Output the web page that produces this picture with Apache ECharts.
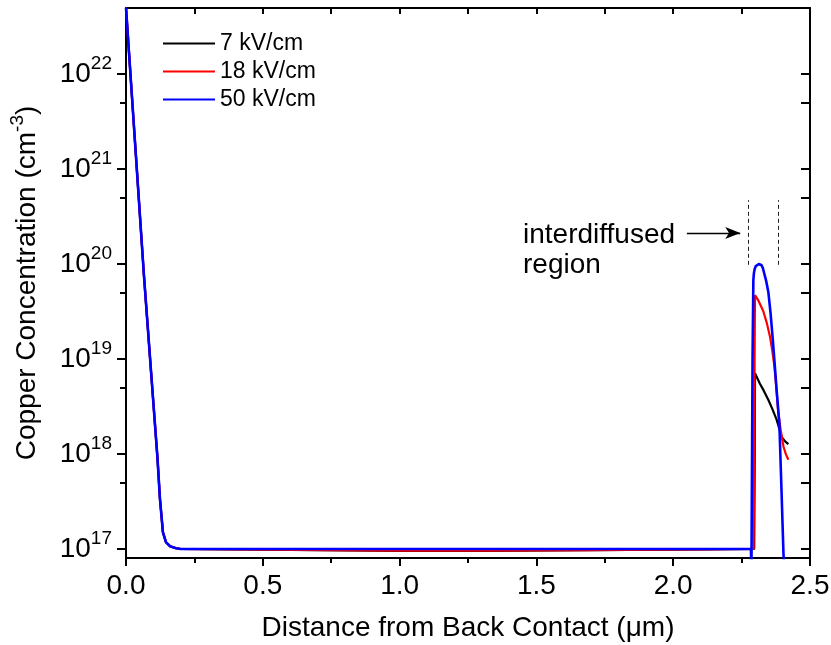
<!doctype html>
<html>
<head>
<meta charset="utf-8">
<title>Copper concentration</title>
<script src="https://cdn.jsdelivr.net/npm/echarts@6/dist/echarts.min.js"></script>
<style>
  html, body { margin: 0; padding: 0; background: #fff; }
  #chart { width: 831px; height: 645px; }
</style>
</head>
<body>
<div id="chart"></div>
<script>
// series names (legend)
var names = ['7 kV/cm', '18 kV/cm', '50 kV/cm'];

// back-contact drop, shared by all three fields  [x (um), Cu (cm^-3)]
var backDrop = [[0, 5.0e22], [0.033, 1.9e21], [0.066, 7.3e19], [0.094, 5.9e18], [0.115, 9.1e17],
  [0.124, 3.4e17], [0.135, 1.5e17], [0.146, 1.18e17], [0.161, 1.07e17], [0.183, 1.02e17], [0.2, 1.0e17]];

// bulk + interdiffused region
var field7 = [[0.5, 0.985e17], [1.0, 0.955e17], [1.3, 0.955e17], [1.7, 0.972e17], [2.1, 0.99e17],
  [2.284, 1e17], [2.296, 1e17], [2.298, 1e18], [2.299, 7.1e18], [2.317, 5.5e18], [2.33, 4.7e18],
  [2.348, 3.7e18], [2.363, 2.95e18], [2.378, 2.3e18], [2.397, 1.5e18], [2.41, 1.35e18], [2.421, 1.27e18]];
var field18 = [[0.5, 0.985e17], [1.0, 0.96e17], [1.3, 0.96e17], [1.7, 0.975e17], [2.1, 0.99e17],
  [2.284, 1e17], [2.294, 1e17], [2.296, 1e18], [2.298, 2e19], [2.299, 4.7e19], [2.31, 4.2e19],
  [2.329, 3.2e19], [2.342, 2.4e19], [2.354, 1.7e19], [2.362, 1.23e19], [2.370, 8.3e18],
  [2.377, 5.0e18], [2.384, 2.7e18], [2.393, 1.78e18], [2.403, 1.2e18], [2.412, 9.9e17], [2.421, 8.7e17]];
var field50 = [[0.5, 1e17], [1.0, 1e17], [1.5, 1e17], [2.0, 1e17], [2.284, 1e17], [2.286, 6e16],
  [2.290, 1e19], [2.293, 6.8e19], [2.295, 8.0e19], [2.298, 8.9e19], [2.302, 9.5e19], [2.307, 9.85e19],
  [2.313, 1.0e20], [2.318, 1.0e20], [2.323, 9.7e19], [2.328, 9.0e19], [2.333, 7.9e19], [2.340, 6.6e19],
  [2.348, 5.0e19], [2.356, 3.0e19], [2.364, 1.6e19], [2.371, 8.8e18], [2.378, 4.7e18],
  [2.388, 2.1e18], [2.396, 4e17], [2.403, 9e16], [2.406, 6e16]];

// axis ticks
var yMajor = [1e17, 1e18, 1e19, 1e20, 1e21, 1e22];
var yMinor = [5e17, 5e18, 5e19, 5e20, 5e21, 5e22];
var yMin = 8.04e16, yMax = 4.95e22;

// annotation: dashed bounds of the interdiffused region and the arrow
var regionBounds = [2.274, 2.384];
var boundsY = [9.8e19, 4.7e20];
var arrowX = [2.05, 2.245], arrowY = 2.12e20;

var font = 'Liberation Sans, Arial, sans-serif';
var colors = ['#000000', '#ff0000', '#0000ff'];
var widths = [2.2, 2.2, 2.6];

function withDrop(arr) { return backDrop.concat(arr); }

function expLabel(v) {
  var e = Math.round(Math.log10(v));
  return '{b|10}{s|' + e + '}';
}

var supRich = {
  b: { fontSize: 28, lineHeight: 40, fontFamily: font, color: '#000' },
  s: { fontSize: 19, lineHeight: 20, verticalAlign: 'top', fontFamily: font, color: '#000' }
};

function yAxisOf(pos, vals, len, inside, main) {
  return {
    type: 'log', logBase: 10, position: pos, min: yMin, max: yMax,
    axisLine: { show: main, lineStyle: { color: '#000', width: 2 } },
    axisTick: { show: true, inside: inside, length: len, customValues: vals, lineStyle: { color: '#000', width: 2 } },
    axisLabel: pos === 'left' && main ? {
      show: true, customValues: vals, margin: 14, formatter: expLabel, rich: supRich
    } : { show: false },
    splitLine: { show: false },
    minorTick: { show: false }
  };
}

var series = [field7, field18, field50].map(function (d, i) {
  return {
    name: names[i], type: 'line', data: withDrop(d), symbol: 'none',
    lineStyle: { color: colors[i], width: widths[i] }, itemStyle: { color: colors[i] },
    animation: false, z: 2 + i
  };
});

series[2].markLine = {
  silent: true, animation: false, symbol: ['none', 'none'],
  label: { show: false },
  lineStyle: { color: '#222', width: 1, type: [4, 3] },
  data: [
    [{ coord: [regionBounds[0], boundsY[0]] }, { coord: [regionBounds[0], boundsY[1]] }],
    [{ coord: [regionBounds[1], boundsY[0]] }, { coord: [regionBounds[1], boundsY[1]] }],
    [{ coord: [arrowX[0], arrowY], lineStyle: { color: '#000', width: 1.3, type: 'solid' } },
     { coord: [arrowX[1], arrowY], symbol: 'arrow', symbolSize: [9, 15] }]
  ]
};

var option = {
  backgroundColor: '#fff',
  animation: false,
  textStyle: { fontFamily: font },
  grid: { left: 126, right: 21, top: 8, bottom: 87, outerBoundsMode: 'none' },
  legend: {
    data: names, orient: 'vertical', left: 158, top: 27,
    icon: 'rect', itemWidth: 52, itemHeight: 2.2, itemGap: 5,
    textStyle: { fontSize: 23, color: '#000', fontFamily: font, lineHeight: 23 }
  },
  xAxis: [{
    type: 'value', position: 'bottom', min: 0, max: 2.5, interval: 0.5,
    name: 'Distance from Back Contact (\u03bcm)', nameLocation: 'middle', nameGap: 56,
    nameTextStyle: { fontSize: 28, color: '#000', fontFamily: font },
    axisLine: { lineStyle: { color: '#000', width: 2 } },
    axisTick: { length: 8, lineStyle: { color: '#000', width: 2 } },
    minorTick: { show: true, splitNumber: 2, length: 5, lineStyle: { color: '#000', width: 2 } },
    axisLabel: { fontSize: 28, color: '#000', margin: 14, fontFamily: font,
      formatter: function (v) { return v.toFixed(1); } },
    splitLine: { show: false }
  }, {
    type: 'value', position: 'top', min: 0, max: 2.5, interval: 0.5,
    axisLine: { lineStyle: { color: '#000', width: 2 } },
    axisTick: { inside: true, length: 6, lineStyle: { color: '#000', width: 2 } },
    minorTick: { show: true, splitNumber: 2, length: 6, lineStyle: { color: '#000', width: 2 } },
    axisLabel: { show: false },
    splitLine: { show: false }
  }],
  yAxis: [
    Object.assign(yAxisOf('left', yMajor, 9, false, true), {
      name: '{b|Copper Concentration (cm}{s|-3}{b|)}', nameLocation: 'middle', nameGap: 80,
      nameTextStyle: { rich: {
        b: { fontSize: 28, lineHeight: 38, fontFamily: font, color: '#000' },
        s: { fontSize: 19, lineHeight: 20, verticalAlign: 'top', fontFamily: font, color: '#000' }
      } }
    }),
    yAxisOf('left', yMinor, 6, false, false),
    yAxisOf('right', yMajor, 9, true, true),
    yAxisOf('right', yMinor, 9, true, false)
  ],
  graphic: [{
    type: 'text', left: 523, top: 220,
    style: { text: 'interdiffused\nregion', font: '28px ' + font, fill: '#000', lineHeight: 30 }
  }],
  series: series
};

var chart = echarts.init(document.getElementById('chart'), null, { renderer: 'canvas' });
chart.setOption(option);
</script>
</body>
</html>
